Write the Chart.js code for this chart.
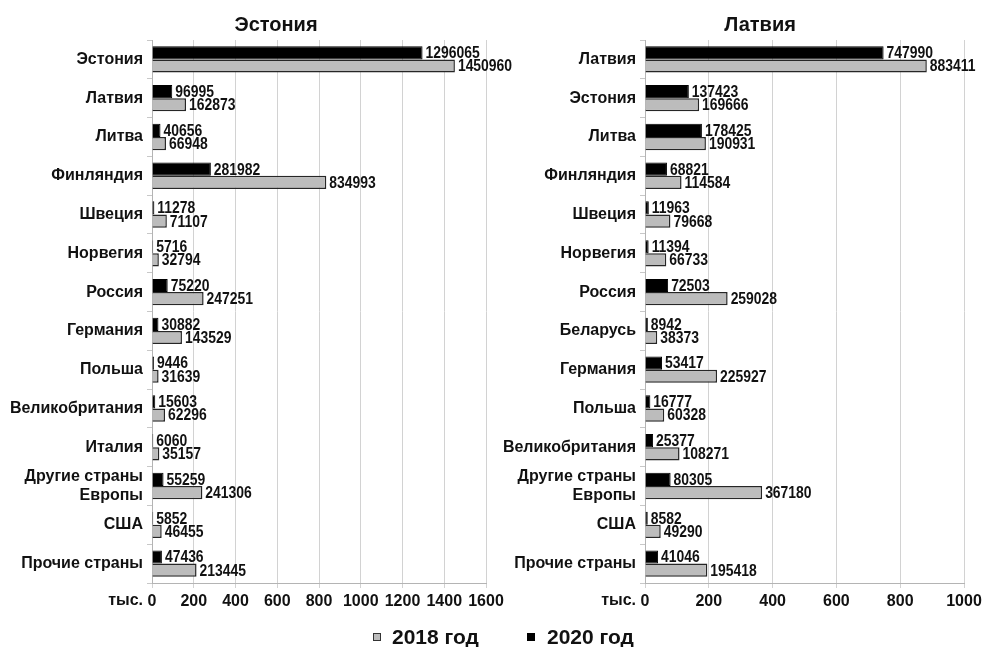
<!DOCTYPE html>
<html>
<head>
<meta charset="utf-8">
<script src="https://cdn.jsdelivr.net/npm/chart.js@4.4.0/dist/chart.umd.min.js"></script>
<style>
  body { margin: 0; background: #fff; font-family: "Liberation Sans", Arial, sans-serif; }
  #wrap { position: relative; width: 987px; height: 647px; overflow: hidden; }
  canvas { position: absolute; top: 0; }
  #c1 { left: 0; }
  #c2 { left: 490px; }
  .title { position: absolute; top: 13px; font-weight: bold; font-size: 20px; line-height: 22px; color: #111; transform: translateX(-50%); white-space: nowrap; }
  .leg { position: absolute; top: 626px; font-weight: bold; font-size: 21px; line-height: 22px; color: #111; white-space: nowrap; }
  .sq { position: absolute; top: 633px; width: 6px; height: 6px; border: 1px solid #333; }
</style>
</head>
<body>
<div id="wrap">
  <canvas id="c1" width="540" height="647"></canvas>
  <canvas id="c2" width="497" height="647"></canvas>
  <div class="title" style="left:276px">Эстония</div>
  <div class="title" style="left:760px">Латвия</div>
  <div class="sq" style="left:373px;background:#bcbcbc"></div>
  <div class="leg" style="left:392px">2018 год</div>
  <div class="sq" style="left:527px;background:#000;border-color:#000"></div>
  <div class="leg" style="left:547px">2020 год</div>
</div>
<script>
// Эстония
const estCats = ['Эстония', 'Латвия', 'Литва', 'Финляндия', 'Швеция', 'Норвегия', 'Россия', 'Германия',
  'Польша', 'Великобритания', 'Италия', ['Другие страны', 'Европы'], 'США', 'Прочие страны']
const est2020 = [1296065, 96995, 40656, 281982, 11278, 5716, 75220, 30882, 9446, 15603, 6060, 55259, 5852, 47436]
const est2018 = [1450960, 162873, 66948, 834993, 71107, 32794, 247251, 143529, 31639, 62296, 35157, 241306, 46455, 213445]
const estTicks = [0, 200, 400, 600, 800, 1000, 1200, 1400, 1600]

// Латвия
const latCats = ['Латвия', 'Эстония', 'Литва', 'Финляндия', 'Швеция', 'Норвегия', 'Россия', 'Беларусь',
  'Германия', 'Польша', 'Великобритания', ['Другие страны', 'Европы'], 'США', 'Прочие страны']
const lat2020 = [747990, 137423, 178425, 68821, 11963, 11394, 72503, 8942, 53417, 16777, 25377, 80305, 8582, 41046]
const lat2018 = [883411, 169666, 190931, 114584, 79668, 66733, 259028, 38373, 225927, 60328, 108271, 367180, 49290, 195418]
const latTicks = [0, 200, 400, 600, 800, 1000]

const font = '"Liberation Sans", Arial, sans-serif'

// подписи значений справа от столбцов
const valueLabels = {
  id: 'valueLabels',
  afterDatasetsDraw(chart) {
    const ctx = chart.ctx
    ctx.save()
    ctx.fillStyle = '#111'
    ctx.font = 'bold 16px ' + font
    ctx.textBaseline = 'middle'
    chart.data.datasets.forEach((ds, i) => {
      chart.getDatasetMeta(i).data.forEach((bar, j) => {
        ctx.save()
        ctx.translate(bar.x + 3, bar.y + 1)
        ctx.scale(0.87, 1)
        ctx.fillText(String(ds.data[j]), 0, 0)
        ctx.restore()
      })
    })
    ctx.restore()
  }
}

// "тыс." слева от нуля
const unitLabel = {
  id: 'unitLabel',
  afterDraw(chart) {
    const ctx = chart.ctx
    const xs = chart.scales.x
    ctx.save()
    ctx.fillStyle = '#111'
    ctx.font = 'bold 16px ' + font
    ctx.textAlign = 'right'
    ctx.textBaseline = 'middle'
    ctx.fillText('тыс.', xs.left - 9, xs.top + 18)
    ctx.restore()
  }
}

function makeChart(id, cats, d2020, d2018, ticks, yWidth, padRight) {
  const max = ticks[ticks.length - 1] * 1000
  return new Chart(document.getElementById(id), {
    type: 'bar',
    data: {
      labels: cats,
      datasets: [
        { label: '2020 год', data: d2020, backgroundColor: '#000', borderColor: '#000', borderWidth: 1 },
        { label: '2018 год', data: d2018, backgroundColor: '#bcbcbc', borderColor: '#262626', borderWidth: 1.5 }
      ]
    },
    options: {
      indexAxis: 'y',
      responsive: false,
      animation: false,
      categoryPercentage: 0.68,
      barPercentage: 1.0,
      layout: { padding: { top: 40, right: padRight, bottom: 34, left: 0 } },
      plugins: { legend: { display: false }, title: { display: false }, tooltip: { enabled: false } },
      scales: {
        x: {
          min: 0,
          max: max,
          afterBuildTicks: (scale) => { scale.ticks = ticks.map(v => ({ value: v * 1000 })) },
          ticks: {
            color: '#111',
            font: { family: font, size: 16, weight: 'bold' },
            padding: 4,
            maxRotation: 0,
            autoSkip: false,
            callback: (v) => String(v / 1000)
          },
          grid: { color: '#d2d2d2', lineWidth: 1, tickLength: 5 },
          border: { color: '#b4b4b4', width: 1 },
          afterFit: (scale) => { scale.height = 30; scale.paddingLeft = 0; scale.paddingRight = 0 }
        },
        y: {
          ticks: {
            color: '#111',
            font: { family: font, size: 16, weight: 'bold' },
            padding: 4,
            autoSkip: false
          },
          grid: { drawOnChartArea: false, color: '#c8c8c8', tickLength: 5, offset: true },
          border: { color: '#b4b4b4', width: 1 },
          afterFit: (scale) => { scale.width = yWidth; scale.paddingTop = 0; scale.paddingBottom = 0 }
        }
      }
    },
    plugins: [valueLabels, unitLabel]
  })
}

makeChart('c1', estCats, est2020, est2018, estTicks, 152, 54)
makeChart('c2', latCats, lat2020, lat2018, latTicks, 155, 23)
</script>
</body>
</html>
